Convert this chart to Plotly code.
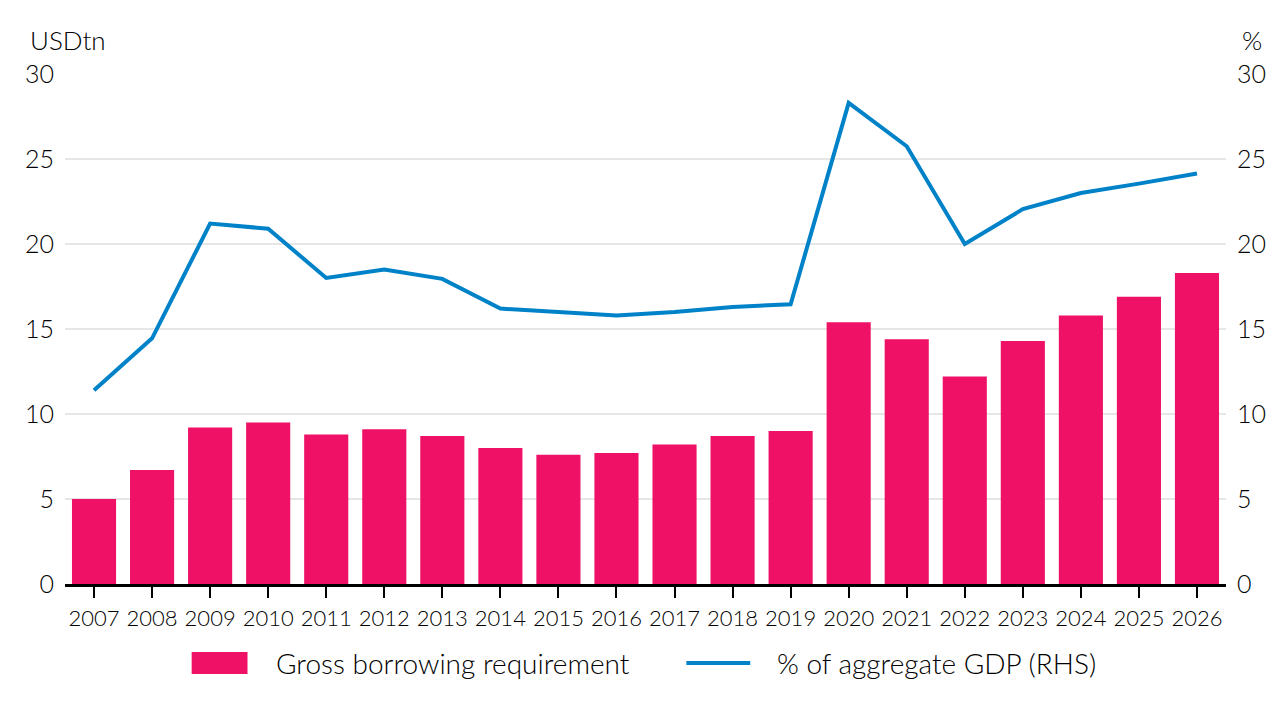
import plotly.graph_objects as go

years = [str(y) for y in range(2007, 2027)]
gross_borrowing = [5.0, 6.7, 9.2, 9.5, 8.8, 9.1, 8.7, 8.0, 7.6, 7.7, 8.2, 8.7, 9.0,
                   15.4, 14.4, 12.2, 14.3, 15.8, 16.9, 18.3]
pct_gdp = [11.4, 14.45, 21.2, 20.9, 18.0, 18.5, 17.95, 16.2, 16.0, 15.8, 16.0, 16.3, 16.45,
           28.3, 25.75, 20.0, 22.05, 23.0, 23.55, 24.15]

bar_name = "Gross borrowing requirement"
line_name = "% of aggregate GDP (RHS)"
left_title = "USDtn"
right_title = "%"

PINK = "#EE1166"
BLUE = "#0082C8"
TXT = "#000000"
FONT = "Lato"
W = 300

fig = go.Figure()
fig.add_trace(go.Bar(x=years, y=gross_borrowing, name=bar_name,
                     marker=dict(color=PINK, line=dict(width=0)), yaxis="y",
                     showlegend=False))
fig.add_trace(go.Scatter(x=years, y=pct_gdp, name=line_name, mode="lines",
                         line=dict(color=BLUE, width=4), yaxis="y2",
                         showlegend=False))

fig.update_layout(
    width=1278, height=717,
    margin=dict(l=65, r=49, t=74, b=133),
    paper_bgcolor="white", plot_bgcolor="white",
    font=dict(family=FONT, size=22, color=TXT, weight=W),
    bargap=0.24,
    showlegend=False,
    xaxis=dict(type="category", showgrid=False, ticks="outside", ticklen=11, tickwidth=2,
               tickcolor=TXT, showline=True, linecolor=TXT, linewidth=2.5,
               tickfont=dict(size=22, weight=W), ticklabelstandoff=2),
    yaxis=dict(range=[0, 30], dtick=5, showgrid=True, gridcolor="#E6E6E6", gridwidth=1.5,
               zeroline=False, showline=False, ticks="", tickfont=dict(size=25, weight=W),
               ticklabelstandoff=10),
    yaxis2=dict(range=[0, 30], dtick=5, overlaying="y", side="right", showgrid=False,
                zeroline=False, showline=False, ticks="", tickfont=dict(size=25, weight=W),
                ticklabelstandoff=10),
    shapes=[
        dict(type="rect", xref="paper", yref="paper", x0=0.1091, x1=0.1572,
             y0=-0.1765, y1=-0.1333, fillcolor=PINK, line=dict(width=0)),
        dict(type="line", xref="paper", yref="paper", x0=0.5352, x1=0.5902,
             y0=-0.1549, y1=-0.1549, line=dict(color=BLUE, width=4)),
    ],
    annotations=[
        dict(text=left_title, xref="paper", yref="paper", x=-0.032, y=1.067, xanchor="left",
             yanchor="middle", showarrow=False, font=dict(size=26, weight=W)),
        dict(text=right_title, xref="paper", yref="paper", x=1.0326, y=1.067, xanchor="right",
             yanchor="middle", showarrow=False, font=dict(size=26, weight=W)),
        dict(text=bar_name, xref="paper", yref="paper", x=0.1804, y=-0.1549, xanchor="left",
             yanchor="middle", showarrow=False, font=dict(size=28, weight=W)),
        dict(text=line_name, xref="paper", yref="paper", x=0.6117, y=-0.1549, xanchor="left",
             yanchor="middle", showarrow=False, font=dict(size=28, weight=W)),
    ],
)

fig.write_html("out.html")
